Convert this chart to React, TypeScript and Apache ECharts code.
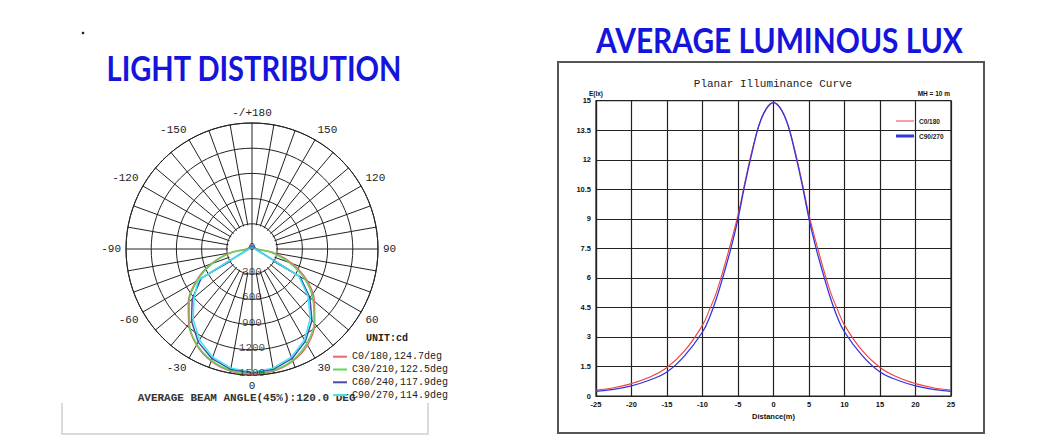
import React, { useEffect, useRef } from 'react';
import * as echarts from 'echarts';

// ---------- Polar (light distribution) data ----------
const POLAR_ANGLES = [-180, -150, -120, -90, -80, -70, -60, -50, -40, -30, -20, -10, 0, 10, 20, 30, 40, 50, 60, 70, 80, 90, 120, 150, 180];
const C0_180 = [45, 40, 40, 60, 270, 520, 770, 990, 1170, 1320, 1420, 1475, 1490, 1475, 1420, 1320, 1160, 970, 760, 510, 265, 55, 40, 40, 45];
const C30_210 = [40, 35, 35, 50, 250, 500, 750, 975, 1160, 1310, 1410, 1465, 1480, 1465, 1410, 1300, 1150, 950, 730, 470, 230, 50, 35, 35, 40];
const C60_240 = [40, 35, 35, 40, null, null, 700, 930, 1120, 1280, 1390, 1455, 1475, 1455, 1390, 1270, 1110, 900, 660, null, null, 40, 35, 35, 40];
const C90_270 = [35, 30, 30, 35, null, null, 740, 900, 1090, 1250, 1370, 1440, 1465, 1440, 1370, 1250, 1080, 870, 640, null, null, 35, 30, 30, 35];
const POLAR_NAMES = ['C0/180,124.7deg', 'C30/210,122.5deg', 'C60/240,117.9deg', 'C90/270,114.9deg'];
const POLAR_COLORS = ['#e86a6a', '#5cd65c', '#4a4aa8', '#3fe6f6'];
const POLAR_SMOOTH = [0.3, 0.3, 0, 0];
const RADIUS_TICKS = [0, 300, 600, 900, 1200, 1500];

// ---------- Planar illuminance data ----------
const DIST = [-25, -22.5, -20, -17.5, -15, -12.5, -10, -9, -8, -7, -6, -5, -4, -3, -2, -1, 0, 1, 2, 3, 4, 5, 6, 7, 8, 9, 10, 12.5, 15, 17.5, 20, 22.5, 25];
const E_C0_180 = [0.3, 0.42, 0.63, 0.95, 1.45, 2.3, 3.6, 4.4, 5.3, 6.5, 7.8, 9.2, 10.9, 12.5, 13.8, 14.6, 14.9, 14.6, 13.8, 12.5, 10.9, 9.2, 7.8, 6.5, 5.3, 4.4, 3.6, 2.3, 1.45, 0.95, 0.63, 0.42, 0.3];
const E_C90_270 = [0.23, 0.34, 0.52, 0.8, 1.22, 2.05, 3.25, 4.0, 5.0, 6.2, 7.5, 9.0, 10.8, 12.4, 13.8, 14.6, 14.9, 14.6, 13.8, 12.4, 10.8, 9.0, 7.5, 6.2, 5.0, 4.0, 3.25, 2.05, 1.22, 0.8, 0.52, 0.34, 0.23];

const MONO = '"Liberation Mono", "DejaVu Sans Mono", monospace';
const SANS = '"Liberation Sans", Arial, sans-serif';

function fitScale(text: string, font: string, target: number): number {
  const ctx = document.createElement('canvas').getContext('2d');
  if (!ctx) return 1;
  ctx.font = font;
  const w = ctx.measureText(text).width;
  return w > 0 ? target / w : 1;
}

export default function App() {
  const ref = useRef<HTMLDivElement>(null);
  useEffect(() => {
    if (!ref.current) return;
    const chart = echarts.init(ref.current, null, { renderer: 'svg' });

    const titleFont = 'bold 34px Lato, "Open Sans", sans-serif';
    const t1 = 'LIGHT DISTRIBUTION';
    const t2 = 'AVERAGE LUMINOUS LUX';

    const polarSeries = [C0_180, C30_210, C60_240, C90_270].map((vals, k) => ({
      type: 'line',
      name: POLAR_NAMES[k],
      coordinateSystem: 'polar',
      polarIndex: 0,
      symbol: 'none',
      smooth: POLAR_SMOOTH[k],
      z: 3 + k * 0.01,
      lineStyle: { color: POLAR_COLORS[k], width: 1.5 },
      itemStyle: { color: POLAR_COLORS[k] },
      data: POLAR_ANGLES.map((a, i) => [vals[i], a]).filter((d) => d[0] !== null),
      silent: true,
    }));

    const rightLegendText = { fontFamily: SANS, fontWeight: 'bold', fontSize: 6.5, color: '#222', lineHeight: 8 };

    const option: any = {
      animation: false,
      backgroundColor: '#ffffff',
      polar: { center: [252, 249], radius: 126 },
      angleAxis: {
        type: 'value',
        min: -180,
        max: 180,
        interval: 10,
        startAngle: 90,
        clockwise: false,
        axisLine: { show: true, lineStyle: { color: '#222', width: 1 } },
        axisTick: { show: false },
        axisLabel: {
          show: true,
          margin: 5,
          fontFamily: MONO,
          fontSize: 11,
          color: '#222',
          formatter: (v: number) => {
            if (v % 30 !== 0 || v === 180) return '';
            if (v === -180) return '-/+180';
            return String(v);
          },
        },
        splitLine: { show: true, lineStyle: { color: '#222', width: 1 } },
      },
      radiusAxis: {
        type: 'value',
        min: 0,
        max: 1500,
        interval: 300,
        axisLine: { show: false },
        axisTick: { show: false },
        axisLabel: { show: false },
        splitLine: { show: true, lineStyle: { color: '#222', width: 1 } },
      },
      grid: {
        left: 596,
        top: 100.7,
        width: 355,
        height: 295.3,
        show: true,
        borderColor: '#222',
        borderWidth: 1.2,
        backgroundColor: 'transparent',
      },
      xAxis: {
        type: 'value',
        min: -25,
        max: 25,
        interval: 5,
        axisLine: { show: true, onZero: false, lineStyle: { color: '#222', width: 1.2 } },
        axisTick: { show: false },
        axisLabel: { margin: 4, fontFamily: SANS, fontWeight: 'bold', fontSize: 7.5, color: '#111', showMinLabel: true, showMaxLabel: true },
        splitLine: { show: true, lineStyle: { color: '#222', width: 1.2 } },
        name: 'Distance(m)',
        nameLocation: 'middle',
        nameGap: 16,
        nameTextStyle: { fontFamily: SANS, fontWeight: 'bold', fontSize: 7.5, color: '#111' },
      },
      yAxis: {
        type: 'value',
        min: 0,
        max: 15,
        interval: 1.5,
        axisLine: { show: true, onZero: false, lineStyle: { color: '#222', width: 1.2 } },
        axisTick: { show: false },
        axisLabel: { margin: 5, fontFamily: SANS, fontWeight: 'bold', fontSize: 7.5, color: '#111' },
        splitLine: { show: true, lineStyle: { color: '#222', width: 1.2 } },
        name: 'E(lx)',
        nameLocation: 'end',
        nameGap: 3,
        nameTextStyle: { fontFamily: SANS, fontWeight: 'bold', fontSize: 6.5, color: '#111', align: 'center' },
      },
      legend: [
        {
          data: POLAR_NAMES,
          icon: 'rect',
          orient: 'vertical',
          left: 328,
          top: 345.3,
          itemWidth: 14,
          itemHeight: 2,
          itemGap: 0,
          selectedMode: false,
          textStyle: { fontFamily: MONO, fontSize: 10, color: '#222', lineHeight: 12.8 },
        },
        {
          data: ['C0/180'],
          icon: 'rect',
          orient: 'vertical',
          left: 891,
          top: 112,
          itemWidth: 18,
          itemHeight: 1,
          selectedMode: false,
          textStyle: rightLegendText,
        },
        {
          data: ['C90/270'],
          icon: 'rect',
          orient: 'vertical',
          left: 891,
          top: 127,
          itemWidth: 18,
          itemHeight: 3,
          selectedMode: false,
          textStyle: rightLegendText,
        },
      ],
      series: [
        ...polarSeries,
        {
          type: 'scatter',
          name: 'radius-labels',
          coordinateSystem: 'polar',
          polarIndex: 0,
          symbolSize: 1,
          itemStyle: { color: 'rgba(0,0,0,0)' },
          z: 6,
          silent: true,
          data: RADIUS_TICKS.map((r) => [r, 0]),
          label: {
            show: true,
            position: 'inside',
            offset: [0, -2],
            fontFamily: MONO,
            fontSize: 11,
            color: '#222',
            formatter: (p: any) => String(p.value[0]),
          },
        },
        {
          type: 'line',
          name: 'C0/180',
          xAxisIndex: 0,
          yAxisIndex: 0,
          symbol: 'none',
          smooth: 0.4,
          lineStyle: { color: '#ee4040', width: 1.1 },
          itemStyle: { color: '#ee4040' },
          data: DIST.map((d, i) => [d, E_C0_180[i]]),
          silent: true,
        },
        {
          type: 'line',
          name: 'C90/270',
          xAxisIndex: 0,
          yAxisIndex: 0,
          symbol: 'none',
          smooth: 0.4,
          lineStyle: { color: '#3535e0', width: 1.3 },
          itemStyle: { color: '#3535e0' },
          data: DIST.map((d, i) => [d, E_C90_270[i]]),
          silent: true,
        },
      ],
      graphic: {
        elements: [
          { type: 'circle', z: 1, silent: true, shape: { cx: 252, cy: 249, r: 24 }, style: { fill: '#ffffff' } },
          { type: 'line', z: 1, silent: true, shape: { x1: 252, y1: 225, x2: 252, y2: 273 }, style: { stroke: '#222', lineWidth: 1 } },
          { type: 'circle', z: 1, silent: true, shape: { cx: 83, cy: 33, r: 1.3 }, style: { fill: '#222' } },
          {
            type: 'text', z: 1, silent: true, x: 254, y: 68.5, scaleX: fitScale(t1, titleFont, 296),
            style: { text: t1, font: titleFont, fill: '#1414dc', textAlign: 'center', textVerticalAlign: 'middle' },
          },
          {
            type: 'text', z: 1, silent: true, x: 779.5, y: 40, scaleX: fitScale(t2, titleFont, 367),
            style: { text: t2, font: titleFont, fill: '#1414dc', textAlign: 'center', textVerticalAlign: 'middle' },
          },
          {
            type: 'text', z: 1, silent: true, x: 773, y: 84,
            style: { text: 'Planar Illuminance Curve', font: '11px ' + MONO, fill: '#222', textAlign: 'center', textVerticalAlign: 'middle' },
          },
          {
            type: 'text', z: 1, silent: true, x: 950, y: 93,
            style: { text: 'MH = 10 m', font: 'bold 6.5px ' + SANS, fill: '#111', textAlign: 'right', textVerticalAlign: 'middle' },
          },
          {
            type: 'text', z: 1, silent: true, x: 366, y: 338,
            style: { text: 'UNIT:cd', font: 'bold 10px ' + MONO, fill: '#222', textAlign: 'left', textVerticalAlign: 'middle' },
          },
          {
            type: 'text', z: 1, silent: true, x: 137.7, y: 397.5,
            style: { text: 'AVERAGE BEAM ANGLE(45%):120.0 DEG', font: 'bold 11px ' + MONO, fill: '#333', textAlign: 'left', textVerticalAlign: 'middle' },
          },
          {
            type: 'polyline', z: 1, silent: true,
            shape: { points: [[62, 403], [62, 434], [428, 434], [428, 403]] },
            style: { stroke: '#cfcfcf', lineWidth: 1.5, fill: 'none' },
          },
          {
            type: 'rect', z: 1, silent: true,
            shape: { x: 558, y: 62, width: 426, height: 371 },
            style: { stroke: '#555', lineWidth: 2, fill: 'none' },
          },
        ],
      },
    };

    chart.setOption(option);
    return () => chart.dispose();
  }, []);

  return (
    <div
      ref={ref}
      style={{ position: 'fixed', left: 0, top: 0, width: 1060, height: 438, background: '#fff' }}
    />
  );
}
